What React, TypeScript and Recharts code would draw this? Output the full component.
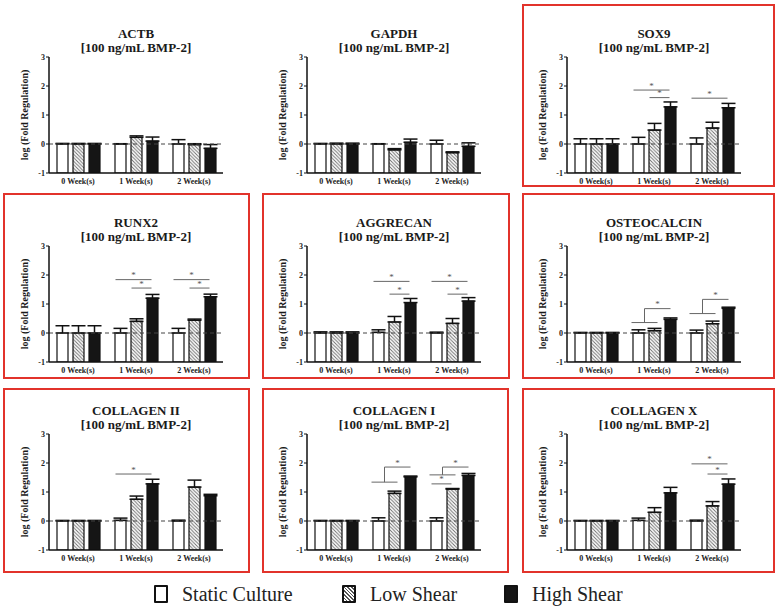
import React from 'react';
import { BarChart, Bar, XAxis, YAxis, ErrorBar, ReferenceLine } from 'recharts';

// ---------- DATA ----------
const WEEKS = ['0 Week(s)', '1 Week(s)', '2 Week(s)'];
const GENES = ['ACTB', 'GAPDH', 'SOX9', 'RUNX2', 'AGGRECAN', 'OSTEOCALCIN', 'COLLAGEN II', 'COLLAGEN I', 'COLLAGEN X'];
const SUBTITLE = '[100 ng/mL BMP-2]';
const HIGHLIGHTED = [false, false, true, true, true, true, true, true, true];
const Y_TICKS = [-1, 0, 1, 2, 3];
const SERIES_NAMES = ['Static Culture', 'Low Shear', 'High Shear'];
const Y_LABEL = 'log (Fold Regulation)';

// rows = genes, columns = weeks
const STATIC_MEAN = [
  [0, 0, 0], [0, 0, 0], [0, 0, 0], [0, 0, 0], [0, 0.02, 0],
  [0, 0, 0], [0, 0.02, 0], [0, 0, 0], [0, 0.02, 0],
];
const STATIC_ERR = [
  [0.02, 0.01, 0.15], [0.02, 0.01, 0.13], [0.18, 0.23, 0.21], [0.25, 0.16, 0.16], [0.04, 0.09, 0.03],
  [0.02, 0.11, 0.1], [0.02, 0.08, 0.03], [0.02, 0.11, 0.11], [0.02, 0.08, 0.03],
];
const LOW_MEAN = [
  [0, 0.23, -0.02], [0, -0.2, -0.3], [0, 0.48, 0.55], [0, 0.4, 0.44], [0, 0.38, 0.33],
  [0, 0.08, 0.32], [0, 0.75, 1.17], [0, 0.95, 1.1], [0, 0.3, 0.52],
];
const LOW_ERR = [
  [0.02, 0.05, 0.03], [0.03, 0.04, 0.03], [0.18, 0.23, 0.2], [0.25, 0.09, 0.04], [0.04, 0.19, 0.17],
  [0.02, 0.08, 0.09], [0.02, 0.11, 0.24], [0.02, 0.08, 0.02], [0.02, 0.16, 0.15],
];
const HIGH_MEAN = [
  [0, 0.1, -0.15], [0, 0.06, -0.08], [0, 1.28, 1.25], [0, 1.2, 1.25], [0, 1.05, 1.1],
  [0, 0.47, 0.85], [0, 1.28, 0.87], [0, 1.52, 1.57], [0, 0.97, 1.27],
];
const HIGH_ERR = [
  [0.02, 0.14, 0.13], [0.03, 0.11, 0.12], [0.18, 0.17, 0.15], [0.25, 0.13, 0.09], [0.04, 0.14, 0.12],
  [0.02, 0.05, 0.04], [0.02, 0.16, 0.05], [0.02, 0.03, 0.07], [0.02, 0.19, 0.18],
];

// significance lines: [gene, week, fromBar, toBar, y]
const SIG_LINES = [
  [2, 1, 0, 2, 1.86], [2, 1, 1, 2, 1.6], [2, 2, 0, 2, 1.58],
  [3, 1, 0, 2, 1.84], [3, 1, 1, 2, 1.55], [3, 2, 0, 2, 1.84], [3, 2, 1, 2, 1.55],
  [4, 1, 0, 2, 1.78], [4, 1, 1, 2, 1.34], [4, 2, 0, 2, 1.78], [4, 2, 1, 2, 1.34],
  [6, 1, 0, 2, 1.62],
  [7, 2, 0, 1, 1.28],
  [8, 2, 0, 2, 1.97], [8, 2, 1, 2, 1.62],
];
// stepped brackets (static+low vs high): [gene, week, lowerY, upperY]
const SIG_STEPS = [
  [5, 1, 0.36, 0.84], [5, 2, 0.67, 1.16], [7, 1, 1.34, 1.86], [7, 2, 1.59, 1.86],
];

// ---------- LAYOUT ----------
const FONT = '"Liberation Serif", "Times New Roman", serif';
const RED = '#e2332b';
const BAR_SIZE = 11;
const BAR_GAP = 5;
const PLOT_W = 174;
const COL_X = [0, 258, 518];
const ROW_TOP = [57, 246, 434];
const CH_W = 258;
const CH_H = 200;
const MARGIN = { top: 57, right: 35, bottom: 7, left: 9 };
const BAND = PLOT_W / 3;
const GROUP = 3 * BAR_SIZE + 2 * BAR_GAP;
const GROUP_OFF = Math.floor((BAND - GROUP) / 2);
// pixel offset of a bar's centre from its category centre
const barDx = (b: number) => GROUP_OFF + b * (BAR_SIZE + BAR_GAP) + BAR_SIZE / 2 - BAND / 2;

const BOXES = [
  null, null,
  { x: 522, y: 4, w: 253, h: 183 },
  { x: 3, y: 193, w: 247, h: 186 },
  { x: 262, y: 193, w: 248, h: 186 },
  { x: 522, y: 193, w: 253, h: 186 },
  { x: 3, y: 388, w: 247, h: 185 },
  { x: 262, y: 388, w: 247, h: 185 },
  { x: 522, y: 388, w: 253, h: 185 },
];

const SIG_STROKE = '#666';

function Star({ x, y }: { x: number; y: number }) {
  return (
    <text x={x} y={y - 1.5} textAnchor="middle" fontSize={9} fill="#555" fontFamily={FONT}>
      *
    </text>
  );
}

const lineShape = (a: number, b: number) => (p: any) => {
  const xa = p.x1 + barDx(a) - 4;
  const xb = p.x1 + barDx(b);
  return (
    <g>
      <line x1={xa} x2={xb} y1={p.y1} y2={p.y1} stroke={SIG_STROKE} strokeWidth={1} />
      <Star x={(xa + xb) / 2} y={p.y1} />
    </g>
  );
};

const stepShape = () => (p: any) => {
  const xa = p.x1 + barDx(0) - 6;
  const xb = p.x1 + barDx(1) + 4;
  const xm = (xa + xb) / 2;
  const xc = p.x1 + barDx(2) + 1;
  return (
    <g>
      <line x1={xa} x2={xb} y1={p.y1} y2={p.y1} stroke={SIG_STROKE} strokeWidth={1} />
      <line x1={xm} x2={xm} y1={p.y1} y2={p.y2} stroke={SIG_STROKE} strokeWidth={1} />
      <line x1={xm} x2={xc} y1={p.y2} y2={p.y2} stroke={SIG_STROKE} strokeWidth={1} />
      <Star x={(xm + xc) / 2} y={p.y2} />
    </g>
  );
};

function Panel({ g }: { g: number }) {
  const col = g % 3;
  const row = Math.floor(g / 3);
  const left = COL_X[col];
  const top = ROW_TOP[row] - MARGIN.top;
  const hatchId = `hatch-${g}`;
  const data = WEEKS.map((w, i) => ({
    week: w,
    s: [-1, STATIC_MEAN[g][i]],
    l: [-1, LOW_MEAN[g][i]],
    h: [-1, HIGH_MEAN[g][i]],
    se: [0, STATIC_ERR[g][i]],
    le: [0, LOW_ERR[g][i]],
    he: [0, HIGH_ERR[g][i]],
  }));

  const lines = SIG_LINES.filter((s) => s[0] === g).map(([, w, a, b, y], i) => (
    <ReferenceLine
      key={`sl${i}`}
      segment={[{ x: WEEKS[w], y }, { x: WEEKS[w], y }]}
      shape={lineShape(a, b)}
      ifOverflow="visible"
    />
  ));
  const steps = SIG_STEPS.filter((s) => s[0] === g).map(([, w, y1, y2], i) => (
    <ReferenceLine
      key={`st${i}`}
      segment={[{ x: WEEKS[w], y: y1 }, { x: WEEKS[w], y: y2 }]}
      shape={stepShape()}
      ifOverflow="visible"
    />
  ));

  const plotLeft = left + MARGIN.left + 40;
  const titleStyle: React.CSSProperties = {
    position: 'absolute',
    left: plotLeft - 40,
    width: PLOT_W + 80,
    textAlign: 'center',
    fontFamily: FONT,
    fontWeight: 'bold',
    fontSize: 13,
    lineHeight: '14px',
    color: '#1a1a1a',
    whiteSpace: 'nowrap',
  };

  return (
    <>
      <div style={{ ...titleStyle, top: ROW_TOP[row] - 30.5 }}>{GENES[g]}</div>
      <div style={{ ...titleStyle, top: ROW_TOP[row] - 16.5 }}>{SUBTITLE}</div>
      <div style={{ position: 'absolute', left, top }}>
        <BarChart
          width={CH_W}
          height={CH_H}
          data={data}
          margin={MARGIN}
          barSize={BAR_SIZE}
          barGap={BAR_GAP}
          style={{ fontFamily: FONT }}
        >
          <defs>
            <pattern id={hatchId} patternUnits="userSpaceOnUse" width="3.5" height="3.5">
              <rect width="3.5" height="3.5" fill="#fff" />
              <path d="M0,0 L3.5,3.5 M-1,2.5 L1,4.5 M2.5,-1 L4.5,1" stroke="#6a6a6a" strokeWidth="0.9" />
            </pattern>
          </defs>
          <XAxis
            dataKey="week"
            tickLine={false}
            axisLine={{ stroke: '#111', strokeWidth: 1.5 }}
            tick={{ fontSize: 8, fontWeight: 'bold', fill: '#222' }}
            tickSize={3}
            tickMargin={2}
            height={20}
            interval={0}
          />
          <XAxis xAxisId="top" dataKey="week" orientation="top" tick={false} tickLine={false} height={0} axisLine={{ stroke: '#111', strokeWidth: 1.5 }} />
          <YAxis
            domain={[-1, 3]}
            ticks={Y_TICKS}
            width={40}
            tickSize={3}
            tickMargin={1}
            axisLine={{ stroke: '#111', strokeWidth: 1.5 }}
            tickLine={{ stroke: '#111', strokeWidth: 1 }}
            tick={{ fontSize: 8, fontWeight: 'bold', fill: '#222' }}
            allowDataOverflow
            label={{
              value: Y_LABEL,
              angle: -90,
              position: 'center',
              dx: -5,
              style: { fontSize: 10, fontWeight: 'bold', fill: '#1a1a1a', textAnchor: 'middle' },
            }}
          />
          <YAxis yAxisId="right" orientation="right" domain={[-1, 3]} width={0} tick={false} tickLine={false} axisLine={{ stroke: '#111', strokeWidth: 1.5 }} />
          <Bar dataKey="s" name={SERIES_NAMES[0]} fill="#fff" stroke="#111" strokeWidth={1.2} isAnimationActive={false}>
            <ErrorBar dataKey="se" width={7} stroke="#111" strokeWidth={1.5} direction="y" />
          </Bar>
          <Bar dataKey="l" name={SERIES_NAMES[1]} fill={`url(#${hatchId})`} stroke="#111" strokeWidth={1.2} isAnimationActive={false}>
            <ErrorBar dataKey="le" width={7} stroke="#111" strokeWidth={1.5} direction="y" />
          </Bar>
          <Bar dataKey="h" name={SERIES_NAMES[2]} fill="#151515" stroke="#111" strokeWidth={1.2} isAnimationActive={false}>
            <ErrorBar dataKey="he" width={7} stroke="#111" strokeWidth={1.5} direction="y" />
          </Bar>
          <ReferenceLine y={0} stroke="#444" strokeWidth={1} strokeDasharray="4 3" />
          {lines}
          {steps}
        </BarChart>
      </div>
    </>
  );
}

function LegendSwatch({ kind }: { kind: number }) {
  const bg =
    kind === 0
      ? '#fff'
      : kind === 2
      ? '#151515'
      : 'repeating-linear-gradient(45deg, #fff 0px, #fff 1.6px, #555 1.6px, #555 2.6px)';
  return (
    <span
      style={{
        display: 'inline-block',
        width: 10,
        height: 14,
        border: '2px solid #111',
        borderRadius: 1,
        background: bg,
        boxSizing: 'content-box',
      }}
    />
  );
}

const LEGEND_X = [154, 342, 504];

export default function App() {
  return (
    <div style={{ position: 'absolute', left: 0, top: 0, width: 778, height: 607, background: '#fff', overflow: 'hidden' }}>
      {BOXES.map((b, i) =>
        b && HIGHLIGHTED[i] ? (
          <div
            key={`box${i}`}
            style={{ position: 'absolute', left: b.x, top: b.y, width: b.w - 4, height: b.h - 4, border: `2px solid ${RED}` }}
          />
        ) : null
      )}
      {GENES.map((_, g) => (
        <Panel key={g} g={g} />
      ))}
      {SERIES_NAMES.map((n, i) => (
        <div
          key={n}
          style={{
            position: 'absolute',
            left: LEGEND_X[i],
            top: 583,
            display: 'flex',
            alignItems: 'center',
            gap: 14,
            fontFamily: FONT,
            fontSize: 20,
            lineHeight: '22px',
            color: '#222',
            whiteSpace: 'nowrap',
          }}
        >
          <LegendSwatch kind={i} />
          <span>{n}</span>
        </div>
      ))}
    </div>
  );
}
